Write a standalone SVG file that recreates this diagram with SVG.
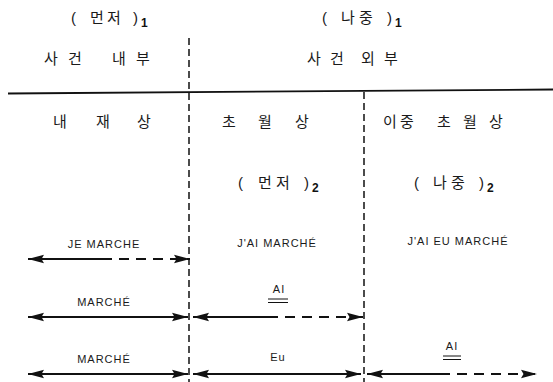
<svg xmlns="http://www.w3.org/2000/svg" width="553" height="382" viewBox="0 0 553 382">
<style>
.ko{font-family:"Noto Sans CJK KR","Noto Sans",sans-serif;font-size:15px;fill:#1a1a1a}
.par{font-family:"Liberation Sans",sans-serif;font-size:15px;fill:#1a1a1a}
.sub{font-family:"Liberation Sans",sans-serif;font-size:12px;font-weight:bold;fill:#111}
.lat{font-family:"Liberation Sans",sans-serif;font-size:11px;fill:#1a1a1a;letter-spacing:1px;text-anchor:middle}
.ln{stroke:#111;stroke-width:1.8;fill:none}
.dash{stroke-dasharray:10 7}
.vd{stroke:#111;stroke-width:1.5;stroke-dasharray:7 4;fill:none}
.ul{stroke:#111;stroke-width:1;fill:none}
</style>
<defs>
<marker id="ah" markerUnits="userSpaceOnUse" markerWidth="18" markerHeight="10" refX="16" refY="5" orient="auto-start-reverse">
<path d="M0,0.8 L16,5 L0,9.2 L2.5,5 Z" fill="#111"/>
</marker>
</defs>
<g id="connectors">
<line class="ln" x1="8" y1="93.5" x2="553" y2="89.5" stroke-width="2"/>
<line class="vd" x1="189" y1="38" x2="189" y2="382"/>
<line class="vd" x1="364" y1="92" x2="364" y2="382"/>
<line class="ln" x1="28" y1="259" x2="102" y2="259" marker-start="url(#ah)"/>
<line class="ln dash" x1="102" y1="259" x2="190" y2="259" marker-end="url(#ah)"/>
<line class="ln" x1="28" y1="317" x2="188" y2="317" marker-start="url(#ah)" marker-end="url(#ah)"/>
<line class="ln" x1="193" y1="317" x2="268" y2="317" marker-start="url(#ah)"/>
<line class="ln dash" x1="268" y1="317" x2="363" y2="317" marker-end="url(#ah)"/>
<line class="ln" x1="28" y1="374" x2="188" y2="374" marker-start="url(#ah)" marker-end="url(#ah)"/>
<line class="ln" x1="193" y1="374" x2="361" y2="374" marker-start="url(#ah)" marker-end="url(#ah)"/>
<line class="ln" x1="367" y1="374" x2="440" y2="374" marker-start="url(#ah)"/>
<line class="ln dash" x1="440" y1="374" x2="537" y2="374" marker-end="url(#ah)"/>
</g>
<g id="first1">
<text class="par" x="71" y="23">(</text>
<text class="ko" x="90 107" y="23">먼저</text>
<text class="par" x="133" y="23">)</text>
<text class="sub" x="141" y="27">1</text>
</g>
<g id="later1">
<text class="par" x="322" y="23">(</text>
<text class="ko" x="341 359" y="23">나중</text>
<text class="par" x="387" y="23">)</text>
<text class="sub" x="395" y="27">1</text>
</g>
<g id="inside">
<text class="ko" x="44 68 112 136" y="64">사건내부</text>
</g>
<g id="outside">
<text class="ko" x="307 330 361 384" y="64">사건외부</text>
</g>
<g id="immanent">
<text class="ko" x="53 96 137" y="127">내재상</text>
</g>
<g id="transcendent">
<text class="ko" x="222 258 295" y="127">초월상</text>
</g>
<g id="double-transcendent">
<text class="ko" x="383 400 437 463 489" y="127">이중초월상</text>
</g>
<g id="first2">
<text class="par" x="238" y="188">(</text>
<text class="ko" x="258 276" y="188">먼저</text>
<text class="par" x="304" y="188">)</text>
<text class="sub" x="312" y="192">2</text>
</g>
<g id="later2">
<text class="par" x="414" y="188">(</text>
<text class="ko" x="433 451" y="188">나중</text>
<text class="par" x="479" y="188">)</text>
<text class="sub" x="487" y="192">2</text>
</g>
<g id="je-marche"><text class="lat" x="104" y="248">JE MARCHE</text></g>
<g id="jai-marche"><text class="lat" x="277" y="247">J'AI MARCHÉ</text></g>
<g id="jai-eu-marche"><text class="lat" x="458" y="245">J'AI EU MARCHÉ</text></g>
<g id="marche-1"><text class="lat" x="104" y="306">MARCHÉ</text></g>
<g id="ai-1">
<text class="lat" x="279" y="293">AI</text>
<line class="ul" x1="268" y1="299" x2="288" y2="299"/>
<line class="ul" x1="268" y1="302.5" x2="288" y2="302.5"/>
</g>
<g id="marche-2"><text class="lat" x="104" y="363">MARCHÉ</text></g>
<g id="eu"><text class="lat" x="278" y="361">Eu</text></g>
<g id="ai-2">
<text class="lat" x="452" y="350">AI</text>
<line class="ul" x1="443" y1="356" x2="461" y2="356"/>
<line class="ul" x1="443" y1="359.5" x2="461" y2="359.5"/>
</g>
</svg>
